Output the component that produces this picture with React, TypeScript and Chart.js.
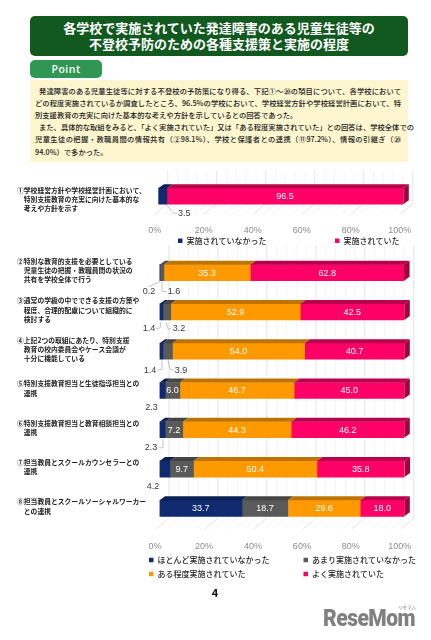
import { useEffect, useRef } from 'react';
import { Chart, registerables } from 'chart.js';

Chart.register(...registerables);

const JP = '"Noto Sans CJK JP", sans-serif';
const NUM = '"Liberation Sans", Arial, sans-serif';
const WIDE = '\u3000';

const titleLines = [
  '各学校で実施されていた発達障害のある児童生徒等の',
  '不登校予防のための各種支援策と実施の程度',
];
const pointLines = [
  '発達障害のある児童生徒等に対する不登校の予防策になり得る、下記①～⑳の項目について、各学校において',
  'どの程度実施されているか調査したところ、96.5%の学校において、学校経営方針や学校経営計画において、特',
  '別支援教育の充実に向けた基本的な考えや方針を示しているとの回答であった。',
  'また、具体的な取組をみると、「よく実施されていた」又は「ある程度実施されていた」との回答は、学校全体での',
  '児童生徒の把握・教職員間の情報共有（②98.1%）、学校と保護者との連携（⑪97.2%）、情報の引継ぎ（⑳',
  '94.0%）で多かった。',
];

// top chart
const topCategories = [
  ['①学校経営方針や学校経営計画において、', WIDE + '特別支援教育の充実に向けた基本的な', WIDE + '考えや方針を示す'],
];
const topNot = [3.5];
const topDone = [96.5];

// bottom chart
const categories = [
  ['②特別な教育的支援を必要としている', WIDE + '児童生徒の把握・教職員間の状況の', WIDE + '共有を学校全体で行う'],
  ['③通常の学級の中でできる支援の方策や', WIDE + '程度、合理的配慮について組織的に', WIDE + '検討する'],
  ['④上記2つの取組にあたり、特別支援', WIDE + '教育の校内委員会やケース会議が', WIDE + '十分に機能している'],
  ['⑤特別支援教育担当と生徒指導担当との', WIDE + '連携'],
  ['⑥特別支援教育担当と教育相談担当との', WIDE + '連携'],
  ['⑦担当教員とスクールカウンセラーとの', WIDE + '連携'],
  ['⑧担当教員とスクールソーシャルワーカー', WIDE + 'との連携'],
];
const hardlyDone = [0.2, 1.4, 1.4, 2.3, 2.3, 4.2, 33.7];
const rarelyDone = [1.6, 3.2, 3.9, 6.0, 7.2, 9.7, 18.7];
const someDone = [35.3, 52.9, 54.0, 46.7, 44.3, 50.4, 29.6];
const oftenDone = [62.8, 42.5, 40.7, 45.0, 46.2, 35.8, 18.0];

const xTicks = [0, 20, 40, 60, 80, 100];

const NAVY = '#0f2a6e';
const GRAY = '#5a5a5a';
const ORANGE = '#ff9900';
const PINK = '#ff0066';
const topFace: Record<string, string> = { [NAVY]: '#0b1f52', [GRAY]: '#444444', [ORANGE]: '#bd7404', [PINK]: '#b8004c' };

const DX = 5.5;
const DY = 4;

// small values sit outside of the bar. offsets are from the bar's lower left corner
type Callout = { row: number; ds: number; tx: number; ty: number; line?: number[][] };
const topCallouts: Callout[] = [
  { row: 0, ds: 0, tx: 26, ty: 9.5, line: [[8, 0], [15, 9], [19, 9]] },
];
const callouts: Callout[] = [
  { row: 0, ds: 0, tx: -10.5, ty: 11, line: [[0.5, 1], [-11, 6]] },
  { row: 0, ds: 1, tx: 14.5, ty: 11, line: [[2.5, 1], [2.5, 11], [7, 11]] },
  { row: 1, ds: 0, tx: -10.5, ty: 9, line: [[1.5, 2], [0.5, 8], [-3.5, 9]] },
  { row: 1, ds: 1, tx: 19.5, ty: 9, line: [[6.5, 2], [8.5, 9], [11.5, 9]] },
  { row: 2, ds: 0, tx: -9.5, ty: 11, line: [[2.5, 1], [2.5, 10], [-2.5, 11]] },
  { row: 2, ds: 1, tx: 21.5, ty: 11, line: [[8.5, 1], [10.5, 10], [14.5, 11]] },
  { row: 3, ds: 0, tx: -8, ty: 9 },
  { row: 4, ds: 0, tx: -8.5, ty: 10, line: [[3.5, 1], [3.5, 10], [-0.5, 10]] },
  { row: 5, ds: 0, tx: -6.5, ty: 9 },
];

const depthPlugin = {
  id: 'depth',
  beforeDatasetsDraw(chart: any) {
    const { ctx, chartArea, scales } = chart;
    const wallTop = chartArea.top - 8;
    const wallBottom = chartArea.bottom - 10;
    ctx.save();
    ctx.lineWidth = 1;
    for (let v = 0; v <= 100; v += 4) {
      const x = scales.x.getPixelForValue(v) + 9.5;
      ctx.strokeStyle = v % 20 === 0 ? '#e3e3e3' : '#f4f4f4';
      ctx.beginPath();
      ctx.moveTo(x, wallTop);
      ctx.lineTo(x, wallBottom);
      ctx.lineTo(x - 13, wallBottom + 11);
      ctx.stroke();
    }
    ctx.restore();
  },
  afterDatasetsDraw(chart: any) {
    const { ctx } = chart;
    const datasets = chart.data.datasets;
    ctx.save();
    datasets.forEach((ds: any, di: number) => {
      chart.getDatasetMeta(di).data.forEach((bar: any) => {
        const top = bar.y - bar.height / 2;
        const bottom = bar.y + bar.height / 2;
        ctx.fillStyle = topFace[ds.backgroundColor];
        ctx.beginPath();
        ctx.moveTo(bar.base, top);
        ctx.lineTo(bar.x, top);
        ctx.lineTo(bar.x + DX, top - DY);
        ctx.lineTo(bar.base + DX, top - DY);
        ctx.closePath();
        ctx.fill();
        if (di === datasets.length - 1) {
          ctx.fillStyle = '#a3003f';
          ctx.beginPath();
          ctx.moveTo(bar.x, top);
          ctx.lineTo(bar.x + DX, top - DY);
          ctx.lineTo(bar.x + DX, bottom - DY);
          ctx.lineTo(bar.x, bottom);
          ctx.closePath();
          ctx.fill();
        }
      });
    });

    const outside: Callout[] = chart.options.plugins.depth.callouts;
    ctx.font = `9px ${NUM}`;
    ctx.textAlign = 'center';
    ctx.textBaseline = 'middle';
    datasets.forEach((ds: any, di: number) => {
      chart.getDatasetMeta(di).data.forEach((bar: any, row: number) => {
        if (outside.some((c) => c.row === row && c.ds === di)) return;
        ctx.fillStyle = '#ffffff';
        ctx.fillText(ds.data[row].toFixed(1), (bar.base + bar.x) / 2, bar.y + 0.5);
      });
    });
    outside.forEach((c) => {
      const bar = chart.getDatasetMeta(0).data[c.row];
      const x0 = chart.scales.x.getPixelForValue(0);
      const y0 = bar.y + bar.height / 2;
      if (c.line) {
        ctx.strokeStyle = '#b5b5b5';
        ctx.lineWidth = 0.8;
        ctx.beginPath();
        c.line.forEach(([dx, dy], i) => (i ? ctx.lineTo(x0 + dx, y0 + dy) : ctx.moveTo(x0 + dx, y0 + dy)));
        ctx.stroke();
      }
      ctx.fillStyle = '#3a3a3a';
      ctx.fillText(datasets[c.ds].data[c.row].toFixed(1), x0 + c.tx, y0 + c.ty);
    });
    ctx.restore();
  },
  // the legend keeps the layout's space but goes where the picture has it
  afterLayout(chart: any) {
    const o = chart.options.plugins.depth;
    chart.legend.left = o.legendLeft;
    chart.legend.top = o.legendTop;
    chart.legend.right = chart.width + 100;
  },
};

function makeConfig(p: any): any {
  return {
    type: 'bar',
    plugins: [depthPlugin],
    data: { labels: p.labels, datasets: p.datasets },
    options: {
      animation: false,
      responsive: false,
      indexAxis: 'y',
      layout: { padding: { left: p.left, right: p.right, top: p.top, bottom: 0 } },
      scales: {
        x: {
          stacked: true,
          min: 0,
          max: 100,
          grid: { display: false },
          border: { display: false },
          afterBuildTicks: (s: any) => { s.ticks = xTicks.map((value) => ({ value })); },
          afterFit: (s: any) => { s.height = 30; },
          ticks: {
            autoSkip: false,
            maxRotation: 0,
            padding: p.tickPad,
            labelOffset: p.labelOffset,
            color: '#8c8c8c',
            font: { family: NUM, size: 9 },
            callback: (v: any) => v + '%',
          },
        },
        y: {
          stacked: true,
          grid: { display: false },
          border: { display: false },
          afterFit: (s: any) => { s.width = p.axisWidth; },
          ticks: {
            autoSkip: false,
            crossAlign: 'far',
            padding: 0,
            labelOffset: p.catOffset,
            color: '#222222',
            font: { family: JP, size: 6.8, weight: 700, lineHeight: 1.36 },
          },
        },
      },
      plugins: {
        tooltip: { enabled: false },
        depth: { callouts: p.callouts, legendLeft: p.legendLeft, legendTop: p.legendTop },
        legend: {
          position: 'bottom',
          align: 'start',
          onClick: null,
          labels: {
            boxWidth: 4.5,
            boxHeight: 4.5,
            padding: p.legendPad,
            color: '#2b2b2b',
            font: { family: JP, size: 8, weight: 500 },
            // wide spaces keep the two legend columns lined up
            generateLabels: (chart: any) =>
              Chart.defaults.plugins.legend.labels.generateLabels(chart).map((item: any, i: number) => ({
                ...item,
                text: item.text + WIDE.repeat(p.legendPads[i]) + (p.legendPads[i] ? '\u2002' : ''),
              })),
          },
        },
      },
    },
  };
}

function BarCanvas({ config, top, height }: { config: any; top: number; height: number }) {
  const ref = useRef<HTMLCanvasElement>(null);
  useEffect(() => {
    const chart = new Chart(ref.current!, config);
    return () => chart.destroy();
  }, []);
  return <canvas ref={ref} width={431} height={height} style={{ position: 'absolute', left: 0, top, width: 431, height }} />;
}

const topConfig = makeConfig({
  labels: topCategories,
  datasets: [
    { label: '実施されていなかった', data: topNot, backgroundColor: NAVY, barThickness: 16, borderWidth: 0 },
    { label: '実施されていた', data: topDone, backgroundColor: PINK, barThickness: 16, borderWidth: 0 },
  ],
  left: 17,
  right: 27.7,
  top: 10,
  axisWidth: 141.3,
  tickPad: 3.5,
  labelOffset: -3.5,
  catOffset: 3,
  callouts: topCallouts,
  legendLeft: 169.5,
  legendTop: 63.2,
  legendPad: 8.5,
  legendPads: [7, 0],
});

const bottomConfig = makeConfig({
  labels: categories,
  datasets: [
    { label: 'ほとんど実施されていなかった', data: hardlyDone, backgroundColor: NAVY, barThickness: 16, borderWidth: 0 },
    { label: 'あまり実施されていなかった', data: rarelyDone, backgroundColor: GRAY, barThickness: 16, borderWidth: 0 },
    { label: 'ある程度実施されていた', data: someDone, backgroundColor: ORANGE, barThickness: 16, borderWidth: 0 },
    { label: 'よく実施されていた', data: oftenDone, backgroundColor: PINK, barThickness: 16, borderWidth: 0 },
  ],
  left: 17,
  right: 26.7,
  top: 13,
  axisWidth: 142.5,
  tickPad: 5,
  labelOffset: -4.5,
  catOffset: -2,
  callouts,
  legendLeft: 143,
  legendTop: 310,
  legendPad: 6,
  legendPads: [3, 0, 6, 0],
});

export default function App() {
  return (
    <div style={{ position: 'absolute', left: 0, top: 0, width: 431, height: 640, overflow: 'hidden', background: '#fff', fontFamily: JP }}>
      <div style={{ position: 'absolute', left: 30, top: 16, width: 378, height: 40, borderRadius: 5, background: '#12591f', color: '#fff', textAlign: 'center', fontSize: 13, fontWeight: 700, lineHeight: '15.7px', paddingTop: 4, boxSizing: 'border-box' }}>
        {titleLines.map((t) => <div key={t}>{t}</div>)}
      </div>
      <div style={{ position: 'absolute', left: 30, top: 60, width: 72, height: 18, borderRadius: 5, background: '#2f9654', color: '#fff', textAlign: 'center', fontFamily: '"Open Sans", sans-serif', fontSize: 10.5, fontWeight: 600, lineHeight: '18px', letterSpacing: 0.5 }}>
        Point
      </div>
      <div style={{ position: 'absolute', left: 30, top: 80, width: 378, height: 82, background: '#fdf6cf', color: '#222', fontSize: 7.3, fontWeight: 500, lineHeight: '12.2px', paddingTop: 4.5, boxSizing: 'border-box' }}>
        {pointLines.map((t, i) => (
          <div
            key={t}
            style={{
              whiteSpace: 'nowrap',
              marginLeft: i === 0 || i === 3 ? 9 : 5,
              width: i === 0 || i === 3 ? 362 : 366,
              textAlign: 'justify',
              textAlignLast: i === 2 || i === 5 ? 'left' : 'justify',
            }}
          >
            {t}
          </div>
        ))}
      </div>
      <BarCanvas config={topConfig} top={165} height={105} />
      <BarCanvas config={bottomConfig} top={240} height={356} />
      <div style={{ position: 'absolute', left: 205, top: 584, width: 20, textAlign: 'center', fontSize: 11, fontWeight: 700, color: '#111' }}>4</div>
      <div style={{ position: 'absolute', left: 323, top: 604, fontFamily: 'Roboto, sans-serif', fontSize: 21, fontWeight: 900, letterSpacing: -0.5, color: '#808080', lineHeight: '28px', transform: 'scaleY(1.12)' }}>ReseMom</div>
      <div style={{ position: 'absolute', left: 398, top: 604, fontSize: 4.5, color: '#808080', lineHeight: '6px' }}>リセマム</div>
    </div>
  );
}
